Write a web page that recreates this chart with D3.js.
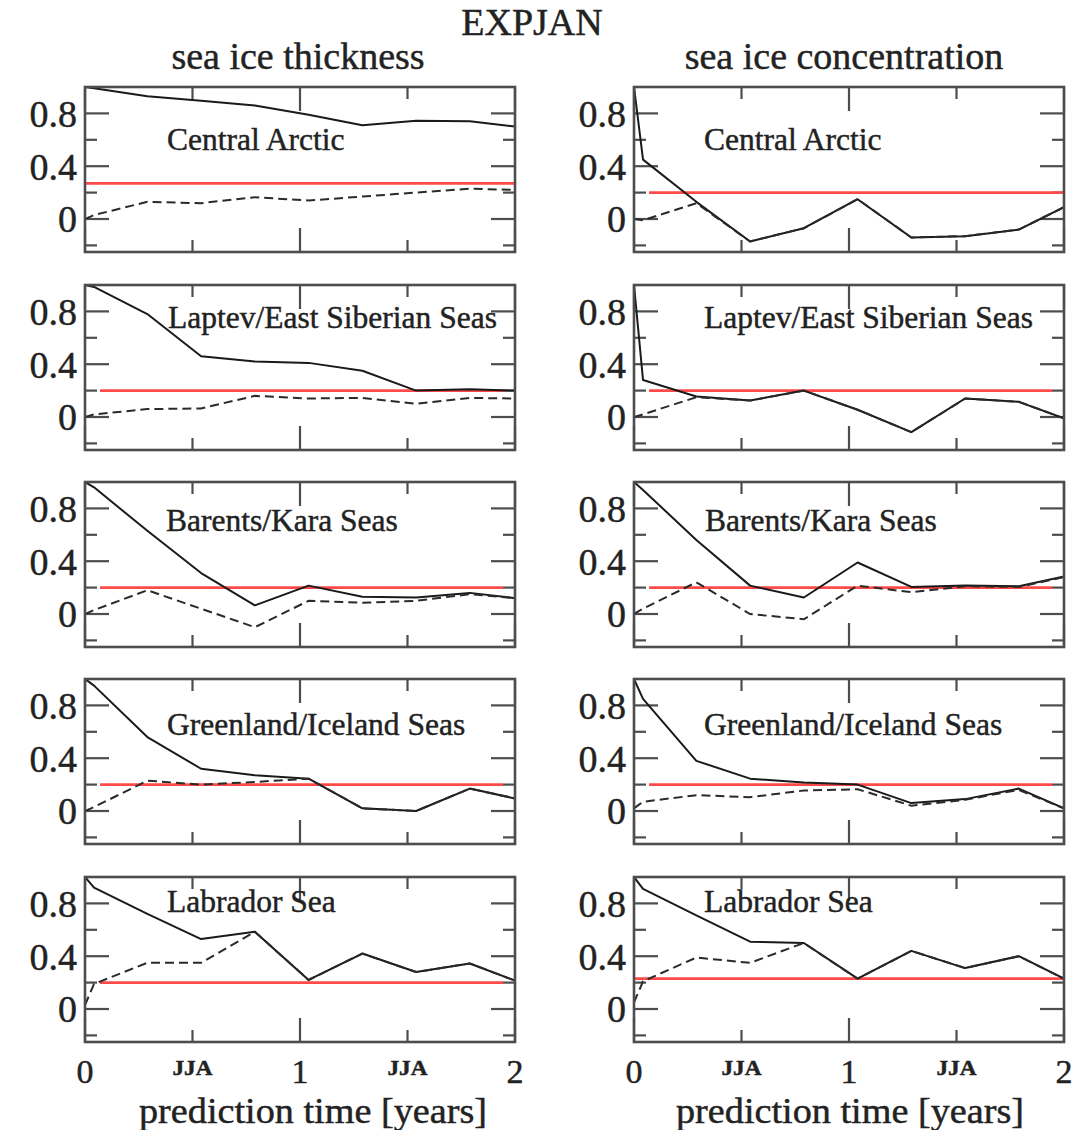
<!DOCTYPE html>
<html>
<head>
<meta charset="utf-8">
<script src="https://cdn.jsdelivr.net/npm/d3@7"></script>
<style>
  html, body { margin: 0; padding: 0; background: #fff; }
  svg { display: block; }
  text { font-family: "Liberation Serif", "Times New Roman", serif; fill: #222; stroke: #222; stroke-width: 0.45px; }
</style>
</head>
<body>
<svg id="chart" width="1076" height="1130"></svg>
<script>
// ---------------- data ----------------
const experiment = "EXPJAN";
const variables = ["sea ice thickness", "sea ice concentration"];
const regions = ["Central Arctic", "Laptev/East Siberian Seas", "Barents/Kara Seas",
                 "Greenland/Iceland Seas", "Labrador Sea"];
// prediction time (years) of each plotted value
const leadTime = [0, 0.042, 0.29, 0.54, 0.79, 1.04, 1.29, 1.54, 1.79, 2.0];

// sea ice thickness: solid and dashed curves, one row per region
const thicknessSolid = [
  [1.0, 0.99, 0.93, 0.895, 0.86, 0.79, 0.71, 0.745, 0.74, 0.70],
  [1.0, 0.985, 0.78, 0.46, 0.42, 0.41, 0.35, 0.20, 0.21, 0.20],
  [1.0, 0.96, 0.63, 0.31, 0.065, 0.215, 0.13, 0.125, 0.16, 0.12],
  [1.0, 0.95, 0.56, 0.32, 0.27, 0.245, 0.02, 0.0, 0.17, 0.095],
  [1.0, 0.92, 0.72, 0.53, 0.585, 0.22, 0.42, 0.28, 0.345, 0.215]
];
const thicknessDashed = [
  [0.0, 0.03, 0.13, 0.12, 0.165, 0.14, 0.17, 0.20, 0.23, 0.22],
  [0.0, 0.02, 0.06, 0.065, 0.16, 0.14, 0.145, 0.10, 0.145, 0.14],
  [0.0, 0.03, 0.18, 0.04, -0.10, 0.10, 0.085, 0.10, 0.15, 0.12],
  [0.0, 0.03, 0.23, 0.20, 0.22, 0.245, 0.02, 0.0, 0.17, 0.095],
  [0.03, 0.19, 0.35, 0.35, 0.585, 0.22, 0.42, 0.28, 0.345, 0.215]
];
// sea ice concentration: solid and dashed curves
const concentrationSolid = [
  [1.0, 0.45, 0.13, -0.17, -0.07, 0.15, -0.14, -0.13, -0.08, 0.09],
  [1.0, 0.28, 0.155, 0.125, 0.20, 0.055, -0.115, 0.14, 0.115, -0.01],
  [1.0, 0.94, 0.56, 0.215, 0.125, 0.39, 0.205, 0.215, 0.21, 0.285],
  [1.0, 0.85, 0.38, 0.245, 0.215, 0.20, 0.06, 0.09, 0.17, 0.02],
  [1.0, 0.91, 0.71, 0.51, 0.50, 0.23, 0.44, 0.31, 0.40, 0.23]
];
const concentrationDashed = [
  [0.0, -0.01, 0.12, -0.17, -0.07, 0.15, -0.14, -0.13, -0.08, 0.09],
  [0.0, 0.02, 0.15, 0.125, 0.20, 0.055, -0.115, 0.14, 0.115, -0.01],
  [0.0, 0.04, 0.24, 0.0, -0.04, 0.215, 0.165, 0.21, 0.205, 0.28],
  [0.02, 0.07, 0.12, 0.105, 0.155, 0.165, 0.04, 0.085, 0.16, 0.02],
  [0.05, 0.21, 0.39, 0.35, 0.50, 0.23, 0.44, 0.31, 0.40, 0.23]
];
// significance level (red line) per region
const thicknessSignif = [0.27, 0.20, 0.20, 0.20, 0.20];
const concentrationSignif = [0.20, 0.20, 0.20, 0.20, 0.23];

// axis ticks
const yMajorTicks = [0, 0.4, 0.8];
const yMinorTicks = [-0.2, 0.2, 0.6];
const xMajorTicks = [0, 1, 2];
const xMinorTicks = [0.5, 1.5];
const xMajorLabels = ["0", "1", "2"];
const xMinorLabels = ["JJA", "JJA"];
const xAxisTitle = "prediction time [years]";

// ---------------- layout ----------------
const panelLeft = [85, 634];
const panelW = 430, panelH = 165;
const rowTop = [87, 285, 482, 679, 877];
// extent of red line [from, to] in years
const redExtent = [
  [[0, 2], [0.07, 2]],
  [[0.07, 1.945], [0.07, 1.945]],
  [[0.07, 1.945], [0.07, 1.945]],
  [[0.07, 1.945], [0.07, 1.945]],
  [[0.07, 1.945], [0, 2]]
];
// region label: [x offset in px from panel left, baseline offset from panel top]
const labelPos = [
  [[82, 63], [70, 63]],
  [[83, 43], [70, 43]],
  [[81, 49], [71, 49]],
  [[82, 56], [70, 56]],
  [[82, 35], [70, 35]]
];

const svg = d3.select("#chart");
const x = d3.scaleLinear().domain([0, 2]).range([0, panelW]);
const y = d3.scaleLinear().domain([-0.25, 1.0]).range([panelH, 0]);
const frameColor = "#4d4d4d";

svg.append("text").attr("x", 532).attr("y", 35).attr("text-anchor", "middle")
  .style("font-size", "38px").text(experiment);

const titleCx = [298, 844];
variables.forEach((v, c) => {
  svg.append("text").attr("x", titleCx[c]).attr("y", 69).attr("text-anchor", "middle")
    .style("font-size", "38px").text(v);
});

const solidSets = [thicknessSolid, concentrationSolid];
const dashedSets = [thicknessDashed, concentrationDashed];
const signifSets = [thicknessSignif, concentrationSignif];

const line = d3.line().x(d => x(d[0])).y(d => y(d[1]));

regions.forEach((reg, r) => {
  [0, 1].forEach(c => {
    const g = svg.append("g").attr("transform", `translate(${panelLeft[c]},${rowTop[r]})`);
    const clipId = `clip-${r}-${c}`;
    g.append("clipPath").attr("id", clipId).append("rect")
      .attr("x", 0).attr("y", 0).attr("width", panelW).attr("height", panelH);

    // ticks (inward, all four sides)
    const tk = g.append("g").attr("stroke", frameColor).attr("stroke-width", 2.2);
    const yTicks = yMajorTicks.map(t => [t, 24]).concat(yMinorTicks.map(t => [t, 12]));
    yTicks.forEach(([t, len]) => {
      tk.append("line").attr("x1", 0).attr("x2", len).attr("y1", y(t)).attr("y2", y(t));
      tk.append("line").attr("x1", panelW).attr("x2", panelW - len).attr("y1", y(t)).attr("y2", y(t));
    });
    const xTicks = xMajorTicks.map(t => [t, 24]).concat(xMinorTicks.map(t => [t, 12]));
    xTicks.forEach(([t, len]) => {
      tk.append("line").attr("x1", x(t)).attr("x2", x(t)).attr("y1", panelH).attr("y2", panelH - len);
      tk.append("line").attr("x1", x(t)).attr("x2", x(t)).attr("y1", 0).attr("y2", len);
    });

    // red significance line
    const ext = redExtent[r][c];
    const s = signifSets[c][r];
    g.append("line").attr("x1", x(ext[0])).attr("x2", x(ext[1]))
      .attr("y1", y(s)).attr("y2", y(s))
      .attr("stroke", "#ff4a4a").attr("stroke-width", 2.6);

    // curves
    const pts = (arr) => leadTime.map((t, i) => [t, arr[i]]);
    const lg = g.append("g").attr("clip-path", `url(#${clipId})`);
    lg.append("path").datum(pts(solidSets[c][r])).attr("d", line)
      .attr("fill", "none").attr("stroke", "#1a1a1a").attr("stroke-width", 2)
      .attr("stroke-linejoin", "round");
    lg.append("path").datum(pts(dashedSets[c][r])).attr("d", line)
      .attr("fill", "none").attr("stroke", "#2a2a2a").attr("stroke-width", 2)
      .attr("stroke-dasharray", "9,5");

    // frame
    g.append("rect").attr("x", 0).attr("y", 0).attr("width", panelW).attr("height", panelH)
      .attr("fill", "none").attr("stroke", frameColor).attr("stroke-width", 2.6);

    // y tick labels
    yMajorTicks.forEach(t => {
      g.append("text").attr("x", -8).attr("y", y(t)).attr("dy", "0.35em")
        .attr("text-anchor", "end").style("font-size", "38px")
        .text(t === 0 ? "0" : d3.format(".1f")(t));
    });

    // region label
    const lp = labelPos[r][c];
    g.append("text").attr("x", lp[0]).attr("y", lp[1]).style("font-size", "31.5px").text(reg);

    // x labels on bottom row
    if (r === regions.length - 1) {
      xMajorTicks.forEach((t, i) => {
        g.append("text").attr("x", x(t)).attr("y", panelH + 41).attr("text-anchor", "middle")
          .style("font-size", "34px").text(xMajorLabels[i]);
      });
      xMinorTicks.forEach((t, i) => {
        g.append("text").attr("x", x(t)).attr("y", panelH + 33).attr("text-anchor", "middle")
          .style("font-size", "20px").style("font-weight", "bold")
          .attr("textLength", 40).attr("lengthAdjust", "spacingAndGlyphs")
          .text(xMinorLabels[i]);
      });
      g.append("text").attr("x", c === 0 ? 228 : 216).attr("y", panelH + 81)
        .attr("text-anchor", "middle").style("font-size", "36px")
        .attr("textLength", 348).attr("lengthAdjust", "spacingAndGlyphs")
        .text(xAxisTitle);
    }
  });
});
</script>
</body>
</html>
